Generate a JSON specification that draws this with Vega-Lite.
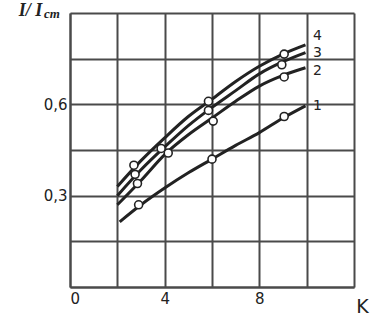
{
  "$schema": "https://vega.github.io/schema/vega-lite/v6.json",
  "autosize": "none",
  "width": 284,
  "height": 274,
  "padding": {"left": 70, "top": 13, "right": 29, "bottom": 35},
  "background": "white",
  "config": {
    "view": {"stroke": null},
    "axis": {"grid": true, "gridColor": "#4a4a4a", "gridWidth": 2, "gridOpacity": 1, "domainColor": "#4a4a4a", "domainWidth": 2, "ticks": false, "labelFont": "DejaVu Sans", "labelFontSize": 15, "labelColor": "#222"}
  },
  "datasets": {
    "curves": [
      {"s": "1", "k": 2.1, "v": 0.214}, {"s": "1", "k": 3, "v": 0.27}, {"s": "1", "k": 4, "v": 0.325}, {"s": "1", "k": 5, "v": 0.375}, {"s": "1", "k": 6, "v": 0.42}, {"s": "1", "k": 7, "v": 0.465}, {"s": "1", "k": 8, "v": 0.507}, {"s": "1", "k": 9, "v": 0.555}, {"s": "1", "k": 9.95, "v": 0.595},
      {"s": "2", "k": 2, "v": 0.27}, {"s": "2", "k": 3, "v": 0.35}, {"s": "2", "k": 4, "v": 0.435}, {"s": "2", "k": 5, "v": 0.5}, {"s": "2", "k": 6, "v": 0.555}, {"s": "2", "k": 7, "v": 0.61}, {"s": "2", "k": 8, "v": 0.66}, {"s": "2", "k": 9, "v": 0.695}, {"s": "2", "k": 9.95, "v": 0.72},
      {"s": "3", "k": 2, "v": 0.3}, {"s": "3", "k": 3, "v": 0.385}, {"s": "3", "k": 4, "v": 0.46}, {"s": "3", "k": 5, "v": 0.53}, {"s": "3", "k": 6, "v": 0.59}, {"s": "3", "k": 7, "v": 0.645}, {"s": "3", "k": 8, "v": 0.7}, {"s": "3", "k": 9, "v": 0.74}, {"s": "3", "k": 9.95, "v": 0.77},
      {"s": "4", "k": 2, "v": 0.33}, {"s": "4", "k": 3, "v": 0.415}, {"s": "4", "k": 4, "v": 0.49}, {"s": "4", "k": 5, "v": 0.56}, {"s": "4", "k": 6, "v": 0.617}, {"s": "4", "k": 7, "v": 0.675}, {"s": "4", "k": 8, "v": 0.725}, {"s": "4", "k": 9, "v": 0.765}, {"s": "4", "k": 9.95, "v": 0.795}
    ],
    "points": [
      {"s": "1", "k": 2.9, "v": 0.27}, {"s": "1", "k": 6.0, "v": 0.42}, {"s": "1", "k": 9.05, "v": 0.56},
      {"s": "2", "k": 2.85, "v": 0.34}, {"s": "2", "k": 4.15, "v": 0.44}, {"s": "2", "k": 6.05, "v": 0.545}, {"s": "2", "k": 9.05, "v": 0.69},
      {"s": "3", "k": 2.75, "v": 0.37}, {"s": "3", "k": 3.85, "v": 0.455}, {"s": "3", "k": 5.85, "v": 0.58}, {"s": "3", "k": 8.95, "v": 0.73},
      {"s": "4", "k": 2.7, "v": 0.4}, {"s": "4", "k": 5.85, "v": 0.61}, {"s": "4", "k": 9.05, "v": 0.765}
    ],
    "labels": [
      {"s": "1", "k": 10.46, "v": 0.594}, {"s": "2", "k": 10.46, "v": 0.711}, {"s": "3", "k": 10.46, "v": 0.768}, {"s": "4", "k": 10.46, "v": 0.826}
    ],
    "unit": [
      {"s": "cm", "k": -0.76, "v": 0.897}
    ]
  },
  "encoding": {
    "x": {"field": "k", "type": "quantitative", "scale": {"domain": [0, 12], "nice": false, "zero": false},
      "axis": {"values": [0, 2, 4, 6, 8, 10, 12], "labelExpr": "datum.value == 0 || datum.value == 4 || datum.value == 8 ? datum.label : ''", "labelPadding": 4,
        "title": "K", "titleX": 292, "titleY": 19, "titleAlign": "center", "titleBaseline": "middle", "titleFont": "DejaVu Sans", "titleFontSize": 19, "titleFontWeight": "normal", "titleColor": "#222"}},
    "y": {"field": "v", "type": "quantitative", "scale": {"domain": [0, 0.9], "nice": false, "zero": false},
      "axis": {"values": [0, 0.15, 0.3, 0.45, 0.6, 0.75, 0.9], "labelExpr": "datum.value == 0.3 ? '0,3' : datum.value == 0.6 ? '0,6' : ''", "labelPadding": 3,
        "title": "I/ I", "titleAngle": 0, "titleX": -40, "titleY": -3, "titleAlign": "center", "titleBaseline": "middle", "titleFont": "Liberation Serif", "titleFontSize": 18, "titleFontStyle": "italic", "titleFontWeight": "bold", "titleColor": "#222"}}
  },
  "layer": [
    {"data": {"name": "curves"}, "mark": {"type": "line", "interpolate": "monotone", "color": "#222", "strokeWidth": 3}, "encoding": {"detail": {"field": "s"}}},
    {"data": {"name": "points"}, "mark": {"type": "point", "shape": "circle", "filled": true, "fill": "white", "stroke": "#222", "strokeWidth": 1.6, "size": 64, "opacity": 1}},
    {"data": {"name": "labels"}, "mark": {"type": "text", "font": "DejaVu Sans", "fontSize": 14, "color": "#222", "align": "center", "baseline": "middle"}, "encoding": {"text": {"field": "s"}}},
    {"data": {"name": "unit"}, "mark": {"type": "text", "font": "Liberation Serif", "fontSize": 13, "fontStyle": "italic", "fontWeight": "bold", "color": "#222", "align": "center", "baseline": "middle", "clip": false}, "encoding": {"text": {"field": "s"}}}
  ]
}
